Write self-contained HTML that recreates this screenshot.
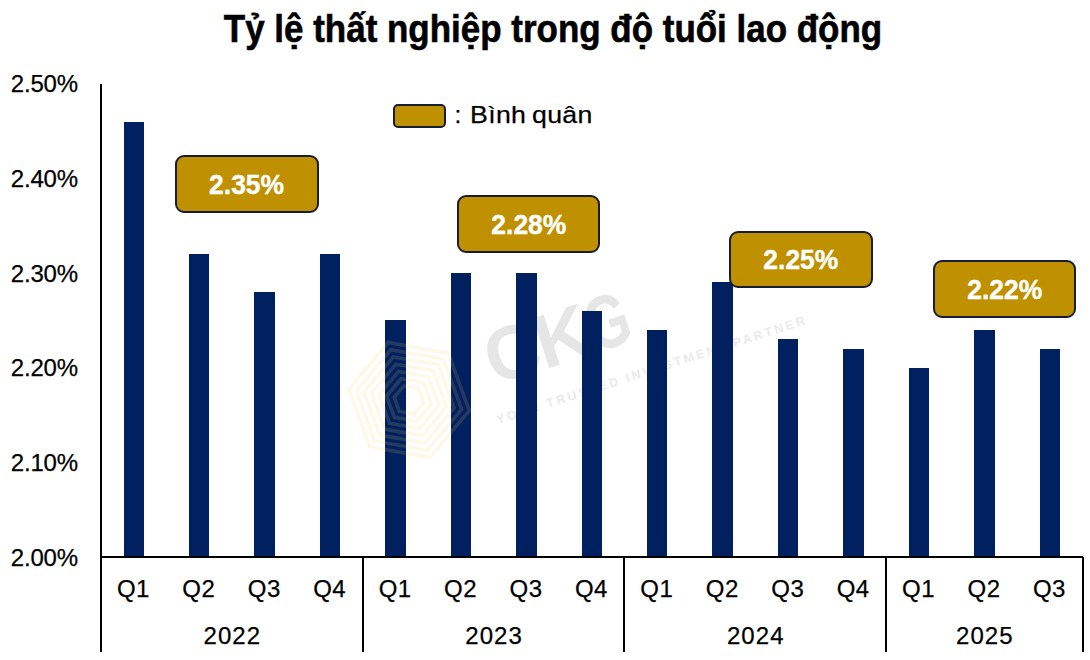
<!DOCTYPE html>
<html><head><meta charset="utf-8"><style>
*{margin:0;padding:0;box-sizing:border-box}
html,body{width:1090px;height:660px;background:#fff;overflow:hidden}
body{position:relative;font-family:"Liberation Sans",sans-serif;color:#000}
.t{position:absolute;white-space:nowrap;line-height:1}
.k{-webkit-text-stroke:0.25px #000}
.bar{position:absolute;background:#002060}
.box{position:absolute;background:#BF9000;border:2.8px solid #161e35;border-radius:9px}
.bt{-webkit-text-stroke:0.4px #fff;position:absolute;white-space:nowrap;line-height:1;color:#fff;font-weight:bold;font-size:27.5px;text-align:center}
.yl{-webkit-text-stroke:0.25px #000;position:absolute;white-space:nowrap;line-height:1;font-size:24px;letter-spacing:-0.15px;text-align:right;width:90px}
.ql{-webkit-text-stroke:0.25px #000;position:absolute;white-space:nowrap;line-height:1;font-size:24px;letter-spacing:0.5px;text-align:center;width:60px}
.yr{-webkit-text-stroke:0.25px #000;position:absolute;white-space:nowrap;line-height:1;font-size:24px;letter-spacing:1.1px;text-align:center;width:120px}
.ln{position:absolute;background:#000}
</style></head><body>

<div class="t" style="left:457.0px;top:300.0px;width:200px;text-align:center;font-size:76px;font-weight:bold;color:#e6e6e6;letter-spacing:-2px;transform:rotate(-18deg)">CK<span style="display:inline-block;transform-origin:0 0;transform:scaleX(0.74);margin-right:-14px">G</span></div>
<div class="t" style="left:452.0px;top:364.0px;width:400px;text-align:center;font-size:12.5px;font-weight:bold;color:#ebebeb;letter-spacing:2.6px;transform:rotate(-18deg)">YOUR TRUSTED INVESTMENT PARTNER</div>
<div class="t" id="title" style="left:0;width:1090px;text-align:center;top:9.5px;font-size:38.5px;font-weight:bold;-webkit-text-stroke:0.6px #000;transform-origin:545.0px 0;transform:translateX(8.0px) scaleX(0.9080)">Tỷ lệ thất nghiệp trong độ tuổi lao động</div>
<div class="yl" style="left:-12.0px;top:72.1px">2.50%</div>
<div class="yl" style="left:-12.0px;top:166.8px">2.40%</div>
<div class="yl" style="left:-12.0px;top:261.5px">2.30%</div>
<div class="yl" style="left:-12.0px;top:356.1px">2.20%</div>
<div class="yl" style="left:-12.0px;top:450.8px">2.10%</div>
<div class="yl" style="left:-12.0px;top:545.5px">2.00%</div>
<div class="bar" style="left:123.52px;top:121.52px;width:20.40px;height:435.48px"></div>
<div class="bar" style="left:188.95px;top:254.06px;width:20.40px;height:302.94px"></div>
<div class="bar" style="left:254.38px;top:291.92px;width:20.40px;height:265.08px"></div>
<div class="bar" style="left:319.82px;top:254.06px;width:20.40px;height:302.94px"></div>
<div class="bar" style="left:385.25px;top:320.32px;width:20.40px;height:236.68px"></div>
<div class="bar" style="left:450.68px;top:272.99px;width:20.40px;height:284.01px"></div>
<div class="bar" style="left:516.12px;top:272.99px;width:20.40px;height:284.01px"></div>
<div class="bar" style="left:581.55px;top:310.86px;width:20.40px;height:246.14px"></div>
<div class="bar" style="left:646.98px;top:329.79px;width:20.40px;height:227.21px"></div>
<div class="bar" style="left:712.42px;top:282.46px;width:20.40px;height:274.54px"></div>
<div class="bar" style="left:777.85px;top:339.26px;width:20.40px;height:217.74px"></div>
<div class="bar" style="left:843.28px;top:348.73px;width:20.40px;height:208.27px"></div>
<div class="bar" style="left:908.72px;top:367.66px;width:20.40px;height:189.34px"></div>
<div class="bar" style="left:974.15px;top:329.79px;width:20.40px;height:227.21px"></div>
<div class="bar" style="left:1039.58px;top:348.73px;width:20.40px;height:208.27px"></div>
<svg style="position:absolute;left:0;top:0" width="1090" height="660"><g transform="translate(409,400) rotate(-20)" fill="none" stroke="rgba(245,205,110,0.15)" stroke-width="3.6"><polygon points="0.0,15.0 -13.0,7.5 -13.0,-7.5 -0.0,-15.0 13.0,-7.5 13.0,7.5"/><polygon points="0.0,22.7 -19.7,11.3 -19.7,-11.4 -0.0,-22.7 19.7,-11.4 19.7,11.3"/><polygon points="0.0,30.4 -26.3,15.2 -26.3,-15.2 -0.0,-30.4 26.3,-15.2 26.3,15.2"/><polygon points="0.0,38.1 -33.0,19.0 -33.0,-19.1 -0.0,-38.1 33.0,-19.1 33.0,19.1"/><polygon points="0.0,45.8 -39.7,22.9 -39.7,-22.9 -0.0,-45.8 39.7,-22.9 39.7,22.9"/><polygon points="0.0,53.5 -46.3,26.7 -46.3,-26.8 -0.0,-53.5 46.3,-26.8 46.3,26.8"/><polygon points="0.0,61.2 -53.0,30.6 -53.0,-30.6 -0.0,-61.2 53.0,-30.6 53.0,30.6"/></g></svg>
<div class="ln" style="left:100px;top:83.5px;width:2px;height:568.0px"></div>
<div class="ln" style="left:100px;top:556px;width:983px;height:2px"></div>
<div class="ln" style="left:361.73px;top:557px;width:2px;height:94.5px"></div>
<div class="ln" style="left:623.47px;top:557px;width:2px;height:94.5px"></div>
<div class="ln" style="left:885.20px;top:557px;width:2px;height:94.5px"></div>
<div class="ln" style="left:1081.50px;top:557px;width:2px;height:94.5px"></div>
<div class="ql" style="left:103.42px;top:577.3px">Q1</div>
<div class="ql" style="left:168.85px;top:577.3px">Q2</div>
<div class="ql" style="left:234.28px;top:577.3px">Q3</div>
<div class="ql" style="left:299.72px;top:577.3px">Q4</div>
<div class="ql" style="left:365.15px;top:577.3px">Q1</div>
<div class="ql" style="left:430.58px;top:577.3px">Q2</div>
<div class="ql" style="left:496.02px;top:577.3px">Q3</div>
<div class="ql" style="left:561.45px;top:577.3px">Q4</div>
<div class="ql" style="left:626.88px;top:577.3px">Q1</div>
<div class="ql" style="left:692.32px;top:577.3px">Q2</div>
<div class="ql" style="left:757.75px;top:577.3px">Q3</div>
<div class="ql" style="left:823.18px;top:577.3px">Q4</div>
<div class="ql" style="left:888.62px;top:577.3px">Q1</div>
<div class="ql" style="left:954.05px;top:577.3px">Q2</div>
<div class="ql" style="left:1019.48px;top:577.3px">Q3</div>
<div class="yr" style="left:172.37px;top:624.0px">2022</div>
<div class="yr" style="left:434.10px;top:624.0px">2023</div>
<div class="yr" style="left:695.83px;top:624.0px">2024</div>
<div class="yr" style="left:924.85px;top:624.0px">2025</div>
<div class="box" style="left:393px;top:104px;width:53px;height:23.6px;border-radius:5px;border-width:2.4px"></div>
<div class="t k" style="left:454.6px;top:102.5px;font-size:24.5px">:</div>
<div class="t k" style="left:469.6px;top:102.5px;font-size:24.5px;letter-spacing:0.3px;transform-origin:0 0;transform:scaleX(1.09)">Bình</div>
<div class="t k" style="left:531.5px;top:102.5px;font-size:24.5px;letter-spacing:0.3px;transform-origin:0 0;transform:scaleX(1.09)">quân</div>
<div class="box" style="left:175.4px;top:155.0px;width:143.2px;height:57.6px"></div>
<div class="bt" style="left:175.4px;width:143.2px;top:170.5px;transform:scaleX(0.962)">2.35%</div>
<div class="box" style="left:456.8px;top:195.0px;width:143.7px;height:57.6px"></div>
<div class="bt" style="left:456.8px;width:143.7px;top:210.5px;transform:scaleX(0.962)">2.28%</div>
<div class="box" style="left:729.2px;top:230.7px;width:143.7px;height:57.6px"></div>
<div class="bt" style="left:729.2px;width:143.7px;top:246.2px;transform:scaleX(0.962)">2.25%</div>
<div class="box" style="left:933.1px;top:260.0px;width:143.4px;height:57.6px"></div>
<div class="bt" style="left:933.1px;width:143.4px;top:275.5px;transform:scaleX(0.962)">2.22%</div>
</body></html>
